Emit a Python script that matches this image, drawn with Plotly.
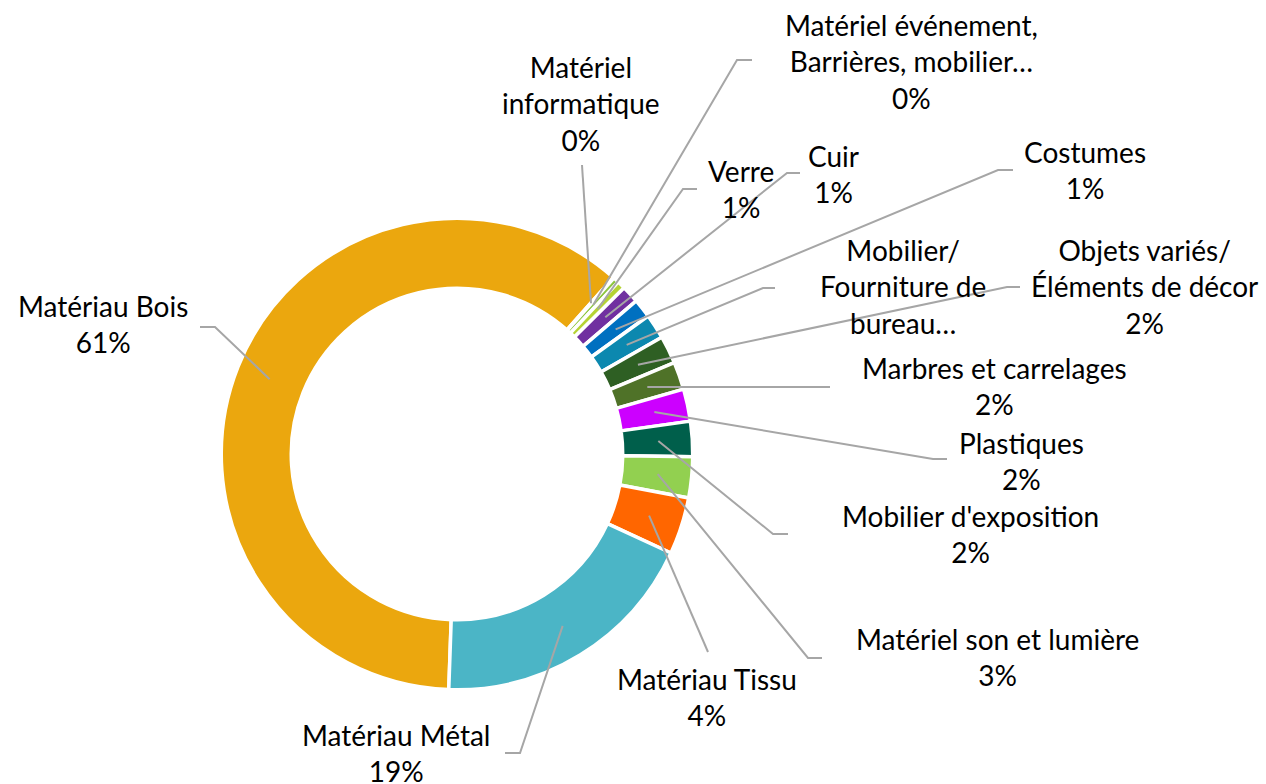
import math
import plotly.graph_objects as go

# ---------------- data ----------------
categories = [
    "Matériau Bois", "Matériel informatique", "Matériel événement, Barrières, mobilier…",
    "Verre", "Cuir", "Costumes", "Mobilier/ Fourniture de bureau…",
    "Objets variés/ Éléments de décor", "Marbres et carrelages", "Plastiques",
    "Mobilier d'exposition", "Matériel son et lumière", "Matériau Tissu", "Matériau Métal",
]
values = [60.8, 0.05, 0.4, 0.55, 1.2, 1.3, 1.7, 1.9, 1.9, 2.2, 2.4, 2.8, 3.9, 18.6]
label_lines = [
    "Matériau Bois", "Matériel<br>informatique", "Matériel événement,<br>Barrières, mobilier…",
    "Verre", "Cuir", "Costumes", "Mobilier/<br>Fourniture de<br>bureau…",
    "Objets variés/<br>Éléments de décor", "Marbres et carrelages", "Plastiques",
    "Mobilier d'exposition", "Matériel son et lumière", "Matériau Tissu", "Matériau Métal",
]
show_percent = [True, True, True, True, True, True, False, True, True, True, True, True, True, True]

# ---------------- styles / layout ----------------
colors = ["#EBA70E", "#8CC63F", "#8DC63F", "#B5D334", "#7030A0", "#0070C0", "#0C88AF",
          "#2E5F23", "#4F7228", "#CC00FF", "#005F4B", "#92D050", "#FF6600", "#4BB5C6"]

W, H = 1266, 784
CX, CY = 457, 454          # donut centre (px)
R_VIS, RIN_VIS = 234, 167.5
BORDER = 3.5
ROTATION = 182
R = R_VIS + BORDER / 2
RIN = RIN_VIS - BORDER / 2
R_MID = (R_VIS + RIN_VIS) / 2 + 1

# label centres (px) and leader-line elbow / end points (px)
label_pos = [(103, 324), (581, 103), (911, 61), (741, 189), (833, 174), (1085, 170),
             (903, 286), (1144, 286), (994, 386), (1021, 461), (970, 534), (997, 657),
             (707, 697), (396, 753)]
leader_pts = [
    [(215, 327), (200, 327)],
    [(582, 165)],
    [(737, 60), (752, 60)],
    [(683, 189), (697, 189)],
    [(787, 173), (800, 173)],
    [(998, 170), (1013, 170)],
    [(763, 288), (775, 288)],
    [(1007, 287), (1020, 287)],
    [(830, 387)],
    [(933, 459), (947, 459)],
    [(773, 534), (788, 534)],
    [(808, 658), (822, 658)],
    [(708, 652)],
    [(520, 753), (505, 753)],
]

total = sum(values)

fig = go.Figure()
fig.add_trace(go.Pie(
    labels=categories, values=values, sort=False, direction="clockwise",
    rotation=ROTATION, hole=RIN / R, textinfo="none", hoverinfo="label+percent",
    marker=dict(colors=colors, line=dict(color="white", width=BORDER)),
    showlegend=False,
    domain=dict(x=[(CX - R) / W, (CX + R) / W], y=[(H - CY - R) / H, (H - CY + R) / H]),
))

# anchors at slice mid-angles, computed from the data
anchors = []
cum = 0.0
for v in values:
    ang = math.radians(ROTATION + (cum + v / 2) / total * 360)
    anchors.append((CX + R_MID * math.sin(ang), CY - R_MID * math.cos(ang)))
    cum += v

fig.add_trace(go.Scatter(x=[a[0] for a in anchors], y=[a[1] for a in anchors], mode="markers",
                         marker=dict(size=1, opacity=0), hoverinfo="skip", showlegend=False))

shapes = []
annotations = []
for i, v in enumerate(values):
    pts = [anchors[i]] + leader_pts[i]
    path = "M " + " L ".join(f"{x:.2f},{y:.2f}" for x, y in pts)
    shapes.append(dict(type="path", path=path, xref="x", yref="y", layer="above",
                       line=dict(color="#A6A6A6", width=2)))
    txt = label_lines[i]
    if show_percent[i]:
        txt += f"<br>{int(v / total * 100 + 0.5)}%"
    annotations.append(dict(x=label_pos[i][0], y=label_pos[i][1], xref="x", yref="y",
                            text=txt, showarrow=False, xanchor="center", yanchor="middle",
                            align="center", font=dict(family="Lato", size=28, color="#000000")))

fig.update_layout(
    width=W, height=H, margin=dict(l=0, r=0, t=0, b=0),
    paper_bgcolor="white", plot_bgcolor="white",
    xaxis=dict(range=[0, W], visible=False, fixedrange=True),
    yaxis=dict(range=[H, 0], visible=False, fixedrange=True),
    shapes=shapes, annotations=annotations,
)

fig.write_html("out.html", config={"displayModeBar": False},
               post_script="document.body.style.margin='0';")
